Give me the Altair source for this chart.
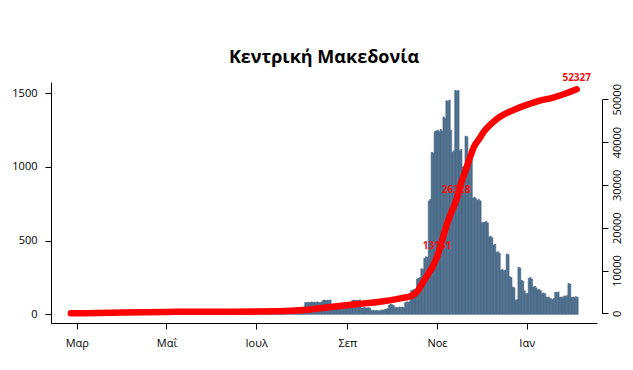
import json
import altair as alt
import pandas as pd

# ---------------- data ----------------
title_text = "Κεντρική Μακεδονία"
month_names = ["Ιαν", "Φεβ", "Μαρ", "Απρ", "Μαΐ", "Ιουν", "Ιουλ", "Αυγ", "Σεπ", "Οκτ", "Νοε", "Δεκ"]

start_date = "2020-02-26"
daily_feb_2020 = [0, 1, 0, 1]
daily_mar = [2, 1, 3, 2, 4, 3, 6, 5, 8, 6, 10, 9, 12, 8, 14, 11, 15, 12, 10, 16, 13, 18, 14, 11, 17, 12, 15, 10, 13, 9, 11]
daily_apr = [10, 12, 8, 14, 9, 11, 7, 10, 6, 9, 8, 12, 7, 5, 9, 6, 8, 4, 7, 5, 6, 4, 8, 3, 5, 4, 6, 3, 5, 4]
daily_may = [3, 2, 4, 1, 3, 2, 0, 3, 1, 2, 4, 1, 2, 0, 3, 1, 2, 1, 3, 0, 2, 1, 3, 2, 1, 0, 2, 3, 1, 2, 1]
daily_jun = [2, 1, 3, 2, 4, 1, 3, 2, 5, 3, 4, 2, 6, 3, 5, 4, 2, 6, 3, 4, 5, 3, 7, 4, 6, 5, 8, 6, 7, 9]
daily_jul = [8, 10, 7, 12, 9, 11, 8, 13, 10, 12, 9, 14, 11, 15, 12, 16, 13, 18, 15, 20, 17, 22, 19, 25, 22, 28, 40, 45, 42, 48, 46]
daily_aug = [45, 50, 80, 78, 82, 79, 84, 80, 83, 78, 85, 81, 79, 84, 95, 97, 93, 96, 94, 98, 60, 55, 58, 62, 57, 60, 55, 63, 58, 61, 57]
daily_sep = [60, 58, 62, 95, 97, 94, 96, 93, 98, 45, 42, 46, 44, 43, 45, 41, 25, 28, 24, 26, 27, 23, 25, 30, 28, 32, 35, 40, 62, 68]
daily_oct = [65, 60, 45, 48, 44, 50, 46, 49, 45, 80, 85, 82, 88, 160, 165, 170, 162, 240, 245, 250, 310, 305, 380, 390, 385, 770, 780, 1100, 1095, 1240, 1245]
daily_nov = [1250, 1240, 1255, 1245, 1340, 1330, 1450, 1445, 1455, 1250, 1100, 1110, 1520, 1515, 1520, 1110, 1120, 1000, 1005, 1210, 1205, 1060, 1065, 1055, 790, 795, 785, 775, 780, 770]
daily_dec = [620, 625, 625, 630, 620, 525, 530, 520, 470, 475, 420, 425, 415, 300, 305, 295, 300, 410, 405, 255, 250, 185, 180, 95, 100, 320, 315, 230, 225, 160, 140]
daily_jan = [140, 245, 250, 240, 185, 190, 180, 165, 170, 160, 140, 145, 140, 115, 118, 112, 105, 100, 108, 150, 148, 152, 115, 118, 112, 125, 122, 128, 210, 205, 115]
daily_feb_2021 = [118, 112, 120, 115]

cum_dates = ["2020-02-26", "2020-03-15", "2020-04-01", "2020-05-01", "2020-06-01", "2020-07-01",
             "2020-07-25", "2020-08-05", "2020-08-15", "2020-08-25", "2020-09-05", "2020-09-15",
             "2020-09-23", "2020-10-07", "2020-10-15", "2020-10-19", "2020-10-22", "2020-10-26",
             "2020-10-29", "2020-11-01", "2020-11-04", "2020-11-07", "2020-11-10", "2020-11-14",
             "2020-11-17", "2020-11-20", "2020-11-22", "2020-11-24", "2020-11-26", "2020-11-30",
             "2020-12-03", "2020-12-08", "2020-12-12", "2020-12-18", "2020-12-25", "2021-01-01",
             "2021-01-10", "2021-01-19", "2021-01-28", "2021-02-04"]
cum_values = [0, 50, 170, 320, 370, 430,
              600, 850, 1250, 1650, 2050, 2400,
              2700, 3500, 4100, 5300, 7000, 9200,
              10900, 13161, 16500, 20000, 23000, 26328,
              30000, 33000, 35000, 37000, 38800, 40900,
              42500, 44300, 45500, 46700, 47800, 48700,
              49700, 50400, 51400, 52327]

label_dates = ["2020-11-01", "2020-11-14", "2021-02-04"]
label_values = [13161, 26328, 52327]

left_ticks = [0, 500, 1000, 1500]
right_ticks = [0, 10000, 20000, 30000, 40000, 50000]

# ---------------- tables ----------------
daily = (daily_feb_2020 + daily_mar + daily_apr + daily_may + daily_jun + daily_jul +
         daily_aug + daily_sep + daily_oct + daily_nov + daily_dec + daily_jan + daily_feb_2021)
dates = pd.date_range(start_date, periods=len(daily), freq="D")
bars_df = pd.DataFrame({
    "date": dates.strftime("%Y-%m-%d"),
    "date_end": (dates + pd.Timedelta(days=1)).strftime("%Y-%m-%d"),
    "cases": daily,
})
cum_df = pd.DataFrame({"date": cum_dates, "cum": cum_values})
lab_df = pd.DataFrame({"date": label_dates, "cum": label_values,
                       "label": [str(v) for v in label_values]})

FONT = "Open Sans"
BAR_COLOR = "#4b6b8a"

x_scale = alt.Scale(
    type="utc",
    domain=[alt.DateTime(year=2020, month=2, date=12, hours=12, utc=True),
            alt.DateTime(year=2021, month=2, date=17, hours=19, utc=True)],
)
x_axis = alt.Axis(
    title=None,
    values=[alt.DateTime(year=2020, month=m, date=1, utc=True) for m in (3, 5, 7, 9, 11)]
    + [alt.DateTime(year=2021, month=1, date=1, utc=True)],
    labelExpr=json.dumps(month_names, ensure_ascii=False) + "[utcmonth(datum.value)]",
    tickSize=6, labelPadding=8, labelFontSize=11, labelFont=FONT,
    domainColor="black", tickColor="black", labelColor="black", grid=False,
)

left_scale = alt.Scale(domain=[-59, 1577], nice=False, zero=False)
left_axis = alt.Axis(title=None, values=left_ticks, format="d", orient="left",
                     tickSize=6, labelPadding=8, labelFontSize=11, labelFont=FONT,
                     domainColor="black", tickColor="black", labelColor="black", grid=False)

right_scale = alt.Scale(domain=[0, 50000], range=[231.3, 17.3], nice=False, zero=False)
right_axis = alt.Axis(title=None, values=right_ticks, format="d", orient="right",
                      offset=5, labelAngle=270, labelAlign="center", labelBaseline="top",
                      tickSize=6, labelPadding=3, labelFontSize=11, labelFont=FONT,
                      domainColor="black", tickColor="black", labelColor="black", grid=False)

bars = alt.Chart(bars_df).mark_rect(color=BAR_COLOR, stroke=BAR_COLOR, strokeWidth=0.6).encode(
    x=alt.X("date:T", scale=x_scale, axis=x_axis),
    x2="date_end:T",
    y=alt.Y("cases:Q", scale=left_scale, axis=left_axis),
    y2=alt.datum(0),
)

line = alt.Chart(cum_df).mark_line(
    color="#ff0000", strokeWidth=6.5, strokeCap="round", strokeJoin="round", interpolate="monotone"
).encode(
    x=alt.X("date:T", scale=x_scale, axis=x_axis),
    y=alt.Y("cum:Q", scale=right_scale, axis=right_axis),
)

labels = alt.Chart(lab_df).mark_text(
    color="#ee1111", fontWeight="bold", fontSize=10, font=FONT, dy=-11
).encode(
    x=alt.X("date:T", scale=x_scale, axis=x_axis),
    y=alt.Y("cum:Q", scale=right_scale, axis=right_axis),
    text="label:N",
)

chart = alt.layer(bars, alt.layer(line, labels)).resolve_scale(y="independent").properties(
    width=546,
    height=241,
    title=alt.TitleParams(title_text, font=FONT, fontSize=18, fontWeight="bold",
                          color="black", anchor="middle", offset=6),
    autosize=alt.AutoSizeParams(type="none"),
    padding={"left": 43, "top": 74, "right": 28, "bottom": 39},
).configure_view(stroke=None)

chart.save("out.html", embed_options={"renderer": "svg", "actions": False})
